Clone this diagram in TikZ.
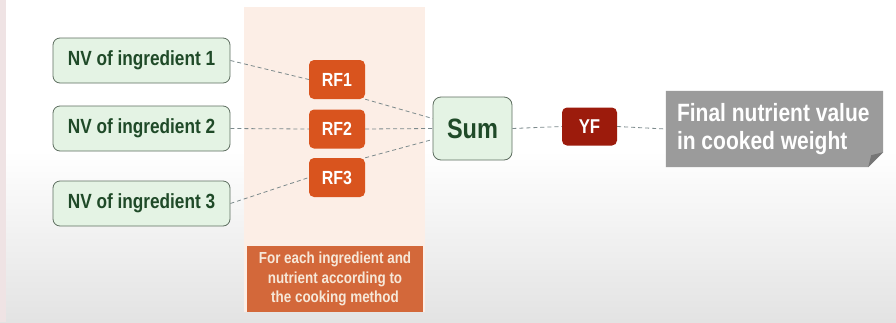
\documentclass[tikz,border=0pt]{standalone}
\usepackage{fontspec}
\setmainfont{Liberation Sans}[FakeStretch=0.84]
\usetikzlibrary{positioning}

\definecolor{nvfill}{HTML}{E4F3E4}
\definecolor{nvline}{HTML}{5E6E60}
\definecolor{nvtext}{HTML}{1F4A28}
\definecolor{rffill}{HTML}{D9541E}
\definecolor{yffill}{HTML}{9C1B0C}
\definecolor{panelfill}{HTML}{FCEEE6}
\definecolor{notefill}{HTML}{D3683A}
\definecolor{notetext}{HTML}{F6E7D8}
\definecolor{finalfill}{HTML}{9B9B9B}
\definecolor{foldfill}{HTML}{767676}
\definecolor{linkgray}{HTML}{7C8A8C}
\definecolor{stripfill}{HTML}{EFE3E4}

\begin{document}
\begin{tikzpicture}[x=1pt,y=-1pt,
  nvbox/.style={draw=nvline,fill=nvfill,rounded corners=7pt,line width=0.8pt,
    minimum width=177pt,minimum height=45pt,text=nvtext,
    font=\bfseries\fontsize{20.5}{22}\selectfont},
  rfbox/.style={fill=rffill,rounded corners=5pt,minimum width=56pt,
    minimum height=39pt,text=white,font=\bfseries\fontsize{19}{21}\selectfont},
  link/.style={draw=linkgray,line width=0.8pt,dash pattern=on 4pt off 3pt}]

% background
\useasboundingbox (0,0) rectangle (896,322);
\fill[white] (0,0) rectangle (896,150);
\shade[top color=white,bottom color=black!11] (0,150) rectangle (896,322);
\fill[stripfill] (0,0) rectangle (6,322);

% panel of the retention factors
\fill[panelfill] (244,7) rectangle (425,312);
\node[fill=notefill,text=notetext,minimum width=176pt,minimum height=66pt,
  align=center,font=\bfseries\fontsize{16}{19.5}\selectfont] (note) at (335,279)
  {For each ingredient and\\nutrient according to\\the cooking method};

% ingredients
\node[nvbox] (nv1) at (141.5,60.5) {NV of ingredient 1};
\node[nvbox] (nv2) at (141.5,128.5) {NV of ingredient 2};
\node[nvbox] (nv3) at (141.5,203.5) {NV of ingredient 3};

\node[rfbox] (rf1) at (337,79.5) {RF1};
\node[rfbox] (rf2) at (337,129) {RF2};
\node[rfbox] (rf3) at (337,177.5) {RF3};

\node[draw=nvline,fill=nvfill,rounded corners=8pt,line width=0.8pt,
  minimum width=79pt,minimum height=63pt,text=nvtext,
  font=\bfseries\fontsize{28}{30}\selectfont] (sum) at (472.5,128.5) {Sum};

\node[fill=yffill,rounded corners=5pt,minimum width=55pt,minimum height=38pt,
  text=white,font=\bfseries\fontsize{20}{22}\selectfont] (yf) at (589.5,126.5) {YF};

% final value with folded corner
\node[minimum width=217pt,minimum height=76pt,inner sep=0pt] (final) at (774.5,129) {};
\fill[finalfill] (final.north west) -- (final.north east) -- ([yshift=15pt]final.south east)
  -- ([xshift=-15pt]final.south east) -- (final.south west) -- cycle;
\fill[foldfill] ([yshift=15pt]final.south east) -- ([xshift=-15pt]final.south east)
  -- ([xshift=-12pt,yshift=12pt]final.south east) -- cycle;
\node[anchor=west,align=left,text=white,inner sep=0pt,
  font=\bfseries\fontsize{25}{28}\selectfont] at ([xshift=11pt]final.west)
  {Final nutrient value\\in cooked weight};

% dashed links
\draw[link] (nv1.east) -- (rf1.west);
\draw[link] (nv2.east) -- (rf2.west);
\draw[link] (nv3.east) -- (rf3.west);
\draw[link] (rf1.south east) -- ([yshift=10pt]sum.west);
\draw[link] (rf2.east) -- (sum.west);
\draw[link] (rf3.north east) -- ([yshift=-11pt]sum.west);
\draw[link] (sum.east) -- (yf.west);
\draw[link] (yf.east) -- (final.west);

\end{tikzpicture}
\end{document}
